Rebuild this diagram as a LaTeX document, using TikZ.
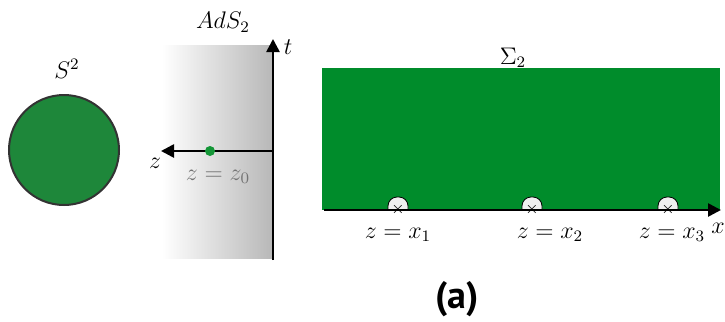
\documentclass[tikz,border=0pt]{standalone}
\usepackage{fontspec}
\newfontfamily\labelfont{PT Sans}
\usetikzlibrary{arrows.meta}
\definecolor{spheregreen}{RGB}{30,135,58}
\definecolor{sigmagreen}{RGB}{0,140,43}
\definecolor{dotgreen}{RGB}{20,150,55}
\tikzset{
  axis/.style={line width=1.3pt,-{Triangle[length=6.5pt,width=6.5pt]}},
  lbl/.style={font=\large,inner sep=0pt},
  bump/.style={draw=black,line width=0.4pt,fill=gray!12,rounded corners=4.5pt},
}
\begin{document}
\begin{tikzpicture}[x=0.5pt,y=-0.5pt]
\useasboundingbox (0,0) rectangle (725,322);
% S^2
\node[circle,draw=black!80,line width=1pt,fill=spheregreen,minimum size=55pt,inner sep=0pt] (sphere) at (64,150) {};
\node[lbl] (s2) at (67,69) {$S^2$};
% AdS2
\shade[left color=white,right color=black!28] (162,45) rectangle (273,258);
\coordinate (tbot) at (273,260);
\coordinate (ttop) at (273,39);
\coordinate (zorig) at (273,151);
\coordinate (ztip) at (161,151);
\draw[axis] (tbot) -- (ttop);
\draw[axis] (zorig) -- (ztip);
\node[lbl] (tlbl) at (288,47) {$t$};
\node[lbl] (zlbl) at (155,163) {$z$};
\node[lbl] (ads) at (223,22) {$AdS_2$};
\node[circle,fill=dotgreen,minimum size=5pt,inner sep=0pt] (z0) at (210,151) {};
\node[lbl,text=black!55] (z0lbl) at (218,177) {$z=z_0$};
% Sigma_2
\node[fill=sigmagreen,minimum width=199pt,minimum height=71pt,inner sep=0pt,anchor=north west] (sigma) at (322,68) {};
\node[lbl,anchor=south] (sig) at (513,68) {$\Sigma_2$};
\coordinate (xstart) at (324,210);
\coordinate (xtip) at (721,210);
\foreach \cx/\n in {398/1,532/2,668/3}{
  \draw[bump] (\cx-10,210) -- (\cx-10,197) -- (\cx+10,197) -- (\cx+10,210);
}
\draw[axis] (xstart) -- (xtip);
\foreach \cx/\n in {398/1,532/2,668/3}{
  \node[inner sep=0pt,font=\footnotesize] (m\n) at (\cx,209) {$\times$};
}
\node[lbl] (x1) at (398,235) {$z=x_1$};
\node[lbl] (x2) at (550,235) {$z=x_2$};
\node[lbl] (x3) at (672,235) {$z=x_3$};
\node[lbl] (xlbl) at (718,228) {$x$};
% caption
\node[font=\labelfont\bfseries\fontsize{19}{22}\selectfont,inner sep=0pt] (cap) at (457,299) {(a)};
\end{tikzpicture}
\end{document}
